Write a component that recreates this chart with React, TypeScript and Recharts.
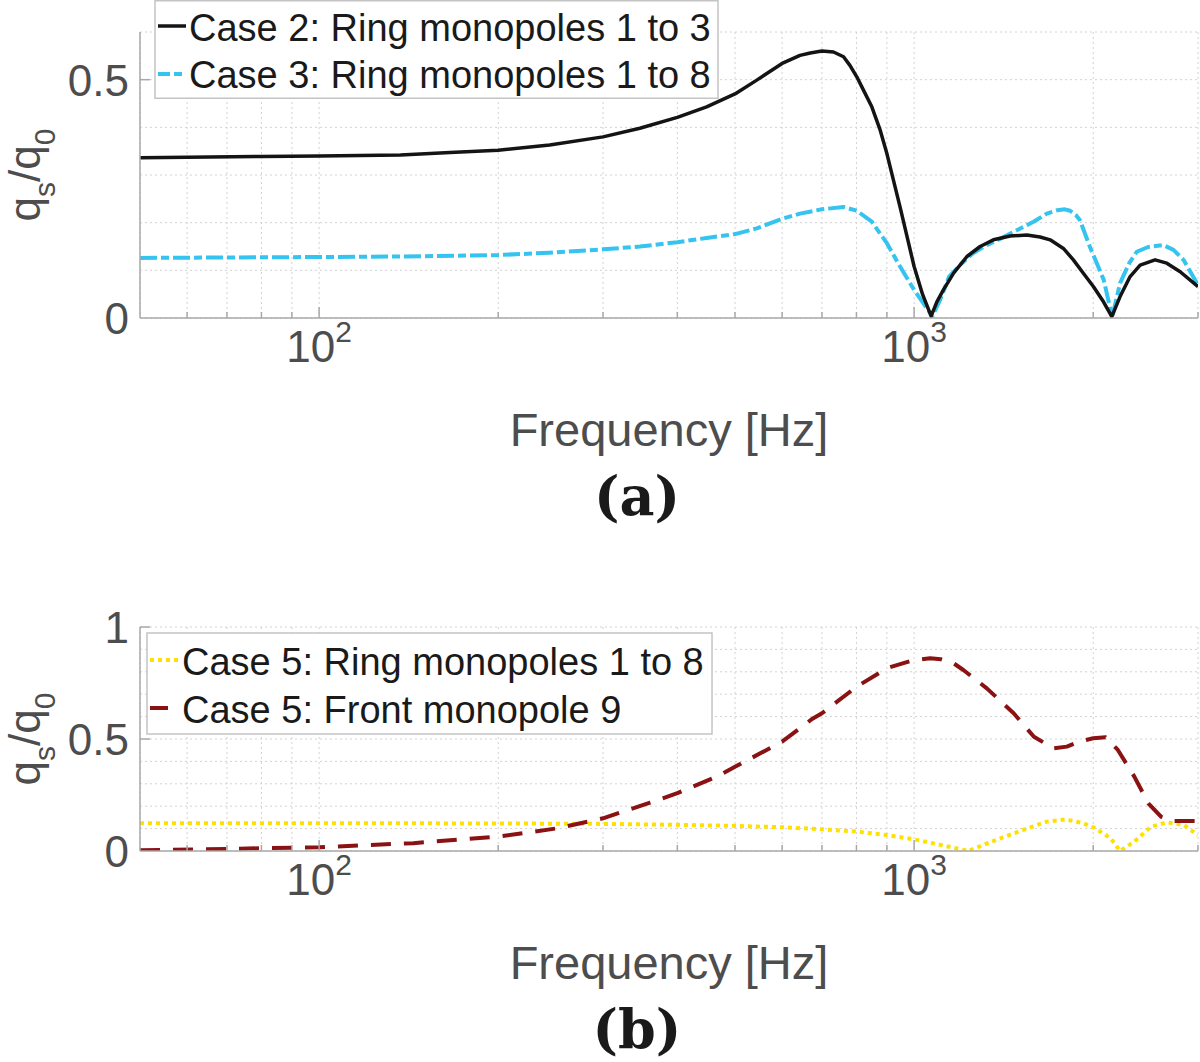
import React from 'react';
import { LineChart, Line, XAxis, YAxis, CartesianGrid } from 'recharts';

// ---------- data ----------
const xDomain = [50, 3000];
const xTicks = [60, 70, 80, 90, 100, 200, 300, 400, 500, 600, 700, 800, 900, 1000, 2000, 3000];
const xLabeled = [100, 1000];

const topYTicks = [0, 0.1, 0.2, 0.3, 0.4, 0.5, 0.6];
const topYLabeled = [0, 0.5];
const bottomYTicks = [0, 0.1, 0.2, 0.3, 0.4, 0.5, 0.6, 0.7, 0.8, 0.9, 1];
const bottomYLabeled = [0, 0.5, 1];

const case2Freq = [50, 80, 100, 137, 166, 200, 244, 300, 346, 400, 448, 500, 544, 600, 643, 669, 700, 732, 761, 780, 801, 822, 849, 877, 900, 947, 1000, 1033, 1068, 1092, 1120, 1165, 1227, 1291, 1359, 1450, 1547, 1628, 1693, 1782, 1852, 1925, 2001, 2081, 2149, 2219, 2307, 2398, 2541, 2659, 2800, 3000];
const case2Val = [0.336, 0.339, 0.34, 0.342, 0.347, 0.352, 0.363, 0.38, 0.398, 0.421, 0.443, 0.47, 0.499, 0.534, 0.551, 0.556, 0.56, 0.558, 0.548, 0.53, 0.506, 0.478, 0.443, 0.394, 0.345, 0.233, 0.108, 0.05, 0.004, 0.034, 0.059, 0.094, 0.129, 0.15, 0.164, 0.172, 0.174, 0.17, 0.164, 0.146, 0.122, 0.094, 0.066, 0.034, 0.003, 0.045, 0.087, 0.111, 0.122, 0.115, 0.097, 0.066];

const case3Freq = [50, 100, 137, 200, 244, 300, 346, 400, 448, 500, 544, 600, 643, 700, 761, 801, 849, 900, 947, 1000, 1073, 1106, 1145, 1203, 1256, 1325, 1400, 1488, 1588, 1671, 1740, 1792, 1829, 1870, 1900, 1975, 2083, 2152, 2219, 2299, 2367, 2474, 2624, 2728, 2836, 3000];
const case3Val = [0.126, 0.128, 0.129, 0.132, 0.137, 0.144, 0.15, 0.159, 0.168, 0.176, 0.188, 0.208, 0.219, 0.228, 0.233, 0.225, 0.202, 0.157, 0.108, 0.059, 0.004, 0.038, 0.087, 0.115, 0.136, 0.153, 0.167, 0.184, 0.202, 0.219, 0.226, 0.228, 0.225, 0.216, 0.205, 0.149, 0.08, 0.002, 0.073, 0.115, 0.139, 0.149, 0.153, 0.143, 0.122, 0.069];

const case5RingFreq = [50, 100, 200, 300, 400, 500, 600, 700, 800, 900, 1000, 1109, 1234, 1350, 1500, 1670, 1800, 1925, 2000, 2140, 2218, 2345, 2500, 2660, 2840, 3000];
const case5RingVal = [0.124, 0.124, 0.123, 0.121, 0.117, 0.112, 0.106, 0.097, 0.087, 0.071, 0.052, 0.027, 0.0, 0.042, 0.087, 0.131, 0.141, 0.124, 0.106, 0.057, 0.0, 0.042, 0.108, 0.128, 0.116, 0.071];

const case5FrontFreq = [50, 72, 100, 144, 200, 251, 300, 360, 400, 466, 500, 600, 676, 700, 800, 900, 1000, 1064, 1109, 1165, 1210, 1325, 1470, 1590, 1715, 1806, 1900, 2000, 2098, 2200, 2345, 2475, 2600, 2700, 3000];
const case5FrontVal = [0.003, 0.01, 0.017, 0.035, 0.064, 0.101, 0.146, 0.216, 0.258, 0.332, 0.376, 0.488, 0.592, 0.615, 0.733, 0.816, 0.853, 0.86, 0.856, 0.838, 0.808, 0.726, 0.615, 0.51, 0.458, 0.466, 0.49, 0.503, 0.508, 0.451, 0.332, 0.213, 0.153, 0.134, 0.134];

const toData = (fs: number[], vs: number[]) => fs.map((f, i) => ({ f, v: vs[i] }));
const case2Data = toData(case2Freq, case2Val);
const case3Data = toData(case3Freq, case3Val);
const case5RingData = toData(case5RingFreq, case5RingVal);
const case5FrontData = toData(case5FrontFreq, case5FrontVal);

// ---------- styles ----------
const FONT = "'Liberation Sans', Arial, Helvetica, sans-serif";
const AXIS = '#a8a8a8';
const TICKTXT = '#4d4d4d';
const GRID = '#d2d2d2';
const BLACK = '#141414';
const BLUE = '#35C3F0';
const YELLOW = '#FFE100';
const RED = '#8B1212';

const XTick = (props: any) => {
  const { x, y, payload } = props;
  const v = payload.value;
  const major = xLabeled.includes(v);
  const exp = Math.round(Math.log10(v));
  return (
    <g>
      <line x1={x} x2={x} y1={y} y2={y - (major ? 11 : 6)} stroke={AXIS} strokeWidth={1.5} />
      {major && (
        <text x={x} y={y + 44} textAnchor="middle" fill={TICKTXT} fontSize={44} fontFamily={FONT}>
          10<tspan dy={-20} fontSize={30}>{exp}</tspan>
        </text>
      )}
    </g>
  );
};

const makeYTick = (labeled: number[]) => (props: any) => {
  const { x, y, payload } = props;
  const v = payload.value;
  if (!labeled.includes(v)) return <g />;
  return (
    <g>
      {v !== 0 && <line x1={x} x2={x + 10} y1={y} y2={y} stroke={AXIS} strokeWidth={1.5} />}
      <text x={x - 11} y={y + 16} textAnchor="end" fill={TICKTXT} fontSize={44} fontFamily={FONT}>
        {String(v)}
      </text>
    </g>
  );
};

const YLabel = ({ cy }: { cy: number }) => (
  <text transform={`translate(40,${cy}) rotate(-90)`} textAnchor="middle" fill={TICKTXT} fontSize={44} fontFamily={FONT}>
    q<tspan dy={15} fontSize={30}>s</tspan>
    <tspan dy={-15}>/q</tspan>
    <tspan dy={15} fontSize={30}>0</tspan>
  </text>
);

export default function App() {
  return (
    <div style={{ position: 'absolute', left: 0, top: 0, width: 1200, height: 1062, background: '#fff' }}>
      <div style={{ position: 'absolute', left: 0, top: 0 }}>
        <LineChart width={1200} height={540} margin={{ top: 32, right: 2, left: 0, bottom: 0 }}>
          <CartesianGrid stroke={GRID} strokeDasharray="2 3" strokeWidth={1} />
          <XAxis
            dataKey="f"
            type="number"
            scale="log"
            domain={xDomain}
            ticks={xTicks}
            interval={0}
            height={222}
            tickSize={0}
            tickMargin={0}
            tickLine={false}
            axisLine={{ stroke: AXIS, strokeWidth: 1.5 }}
            tick={<XTick />}
            allowDataOverflow
          />
          <YAxis
            type="number"
            domain={[0, 0.6]}
            ticks={topYTicks}
            interval={0}
            width={140}
            tickSize={0}
            tickMargin={0}
            tickLine={false}
            axisLine={{ stroke: AXIS, strokeWidth: 1.5 }}
            tick={makeYTick(topYLabeled)}
            allowDataOverflow
          />
          <Line data={case3Data} dataKey="v" type="linear" dot={false} activeDot={false} isAnimationActive={false} stroke={BLUE} strokeWidth={4} strokeDasharray="17 4 8 4" strokeLinejoin="round" />
          <Line data={case2Data} dataKey="v" type="linear" dot={false} activeDot={false} isAnimationActive={false} stroke={BLACK} strokeWidth={3.5} strokeLinejoin="round" />
        </LineChart>
      </div>
      <div style={{ position: 'absolute', left: 0, top: 540 }}>
        <LineChart width={1200} height={522} margin={{ top: 87, right: 2, left: 0, bottom: 0 }}>
          <CartesianGrid stroke={GRID} strokeDasharray="2 3" strokeWidth={1} />
          <XAxis
            dataKey="f"
            type="number"
            scale="log"
            domain={xDomain}
            ticks={xTicks}
            interval={0}
            height={211}
            tickSize={0}
            tickMargin={0}
            tickLine={false}
            axisLine={{ stroke: AXIS, strokeWidth: 1.5 }}
            tick={<XTick />}
            allowDataOverflow
          />
          <YAxis
            type="number"
            domain={[0, 1]}
            ticks={bottomYTicks}
            interval={0}
            width={140}
            tickSize={0}
            tickMargin={0}
            tickLine={false}
            axisLine={{ stroke: AXIS, strokeWidth: 1.5 }}
            tick={makeYTick(bottomYLabeled)}
            allowDataOverflow
          />
          <Line data={case5RingData} dataKey="v" type="linear" dot={false} activeDot={false} isAnimationActive={false} stroke={YELLOW} strokeWidth={4} strokeDasharray="4 4" strokeLinejoin="round" />
          <Line data={case5FrontData} dataKey="v" type="linear" dot={false} activeDot={false} isAnimationActive={false} stroke={RED} strokeWidth={4} strokeDasharray="20 13" strokeLinejoin="round" />
        </LineChart>
      </div>
      <svg width={1200} height={1062} style={{ position: 'absolute', left: 0, top: 0, pointerEvents: 'none' }}>
        {/* top legend */}
        <rect x={155} y={0.75} width={563} height={97.5} fill="#fff" stroke="#c4c4c4" strokeWidth={1.5} />
        <line x1={158} x2={186} y1={26} y2={26} stroke={BLACK} strokeWidth={3.5} />
        <line x1={158} x2={186} y1={74} y2={74} stroke={BLUE} strokeWidth={4} strokeDasharray="12 4 8 4" />
        <text x={189} y={41} fontSize={38} fontFamily={FONT} fill="#1a1a1a">Case 2: Ring monopoles 1 to 3</text>
        <text x={189} y={88} fontSize={38} fontFamily={FONT} fill="#1a1a1a">Case 3: Ring monopoles 1 to 8</text>
        {/* bottom legend */}
        <rect x={147} y={633} width={565} height={101} fill="#fff" stroke="#c4c4c4" strokeWidth={1.5} />
        <line x1={150} x2={179} y1={660} y2={660} stroke={YELLOW} strokeWidth={4} strokeDasharray="4 4" />
        <line x1={150} x2={168} y1={708} y2={708} stroke={RED} strokeWidth={4} />
        <text x={182} y={675} fontSize={38} fontFamily={FONT} fill="#1a1a1a">Case 5: Ring monopoles 1 to 8</text>
        <text x={182} y={723} fontSize={38} fontFamily={FONT} fill="#1a1a1a">Case 5: Front monopole 9</text>
        {/* axis labels */}
        <YLabel cy={175} />
        <YLabel cy={739} />
        <text x={669} y={446} textAnchor="middle" fontSize={47} fontFamily={FONT} fill={TICKTXT}>Frequency [Hz]</text>
        <text x={669} y={979} textAnchor="middle" fontSize={47} fontFamily={FONT} fill={TICKTXT}>Frequency [Hz]</text>
        <text x={637} y={515} textAnchor="middle" fontSize={54} fontWeight="bold" fontFamily="'DejaVu Serif', serif" fill="#1a1a1a">(a)</text>
        <text x={637} y={1048} textAnchor="middle" fontSize={54} fontWeight="bold" fontFamily="'DejaVu Serif', serif" fill="#1a1a1a">(b)</text>
      </svg>
    </div>
  );
}
